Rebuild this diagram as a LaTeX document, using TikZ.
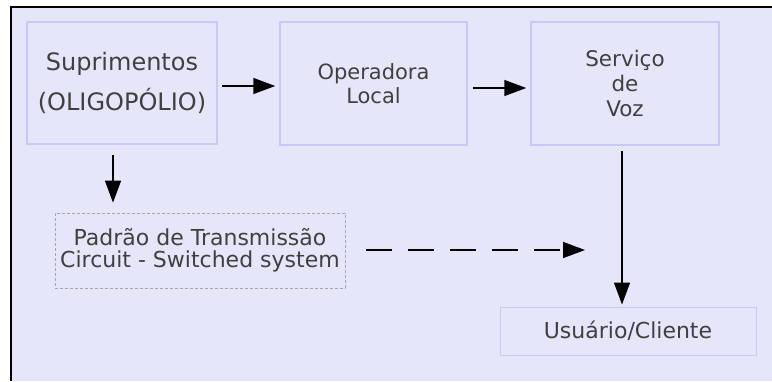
\documentclass[tikz,border=0pt]{standalone}
\usepackage{fontspec}
\setmainfont{DejaVu Sans}
\usetikzlibrary{arrows.meta}
\definecolor{bgl}{HTML}{E6E6FA}
\definecolor{boxl}{HTML}{C8C8FA}
\definecolor{txt}{HTML}{404040}
\tikzset{
  blk/.style={draw=boxl, line width=1.5pt, text=txt, align=center, inner sep=0pt},
  dbox/.style={draw=gray!70, line width=0.8pt, dash pattern=on 3pt off 2pt, text=txt, align=center, inner sep=0pt},
  arr/.style={line width=1.5pt, -{Triangle[length=22pt,width=16pt]}},
  darr/.style={line width=1.5pt, dash pattern=on 26pt off 16pt, -{Triangle[length=22pt,width=16pt]}}
}
\begin{document}
\begin{tikzpicture}[x=1pt,y=-1pt]
\useasboundingbox (0,0) rectangle (772,381);
\fill[bgl] (11,7) rectangle (772,381);
\draw[line width=2pt] (11,381) -- (11,7) -- (772,7);
\node[blk, minimum width=190pt, minimum height=122pt, font=\fontsize{24}{40}\selectfont] (sup) at (122,83) {Suprimentos\\(OLIGOPÓLIO)};
\node[blk, minimum width=187pt, minimum height=123pt, font=\fontsize{21}{24}\selectfont] (op) at (373.5,83.5) {Operadora\\Local};
\node[blk, minimum width=188pt, minimum height=123pt, font=\fontsize{21.5}{25}\selectfont] (voz) at (625,83.5) {Serviço\\de\\Voz};
\node[dbox, minimum width=290pt, minimum height=75pt, font=\fontsize{22}{22}\selectfont] (pad) at (200,250.5) {Padrão de Transmissão\\Circuit - Switched system};
\node[blk, line width=1pt, minimum width=256pt, minimum height=48pt, font=\fontsize{22}{24}\selectfont] (usr) at (628,331) {Usuário/Cliente};
\coordinate (dend) at (585,250);
\draw[arr, shorten <=4pt, shorten >=4pt] ([yshift=-3pt]sup.east) -- ([yshift=-3pt]sup.east -| op.west);
\draw[arr, shorten <=5pt, shorten >=4pt] ([yshift=-4.5pt]op.east) -- ([yshift=-4.5pt]op.east -| voz.west);
\draw[arr, shorten <=10pt, shorten >=10pt] ([xshift=-9pt]sup.south) -- ([xshift=-9pt]sup.south |- pad.north);
\draw[darr, shorten <=21pt] (pad.east |- dend) -- (dend);
\draw[arr, shorten <=5pt, shorten >=2pt] ([xshift=-3pt]voz.south) -- ([xshift=-3pt]voz.south |- usr.north);
\end{tikzpicture}
\end{document}
